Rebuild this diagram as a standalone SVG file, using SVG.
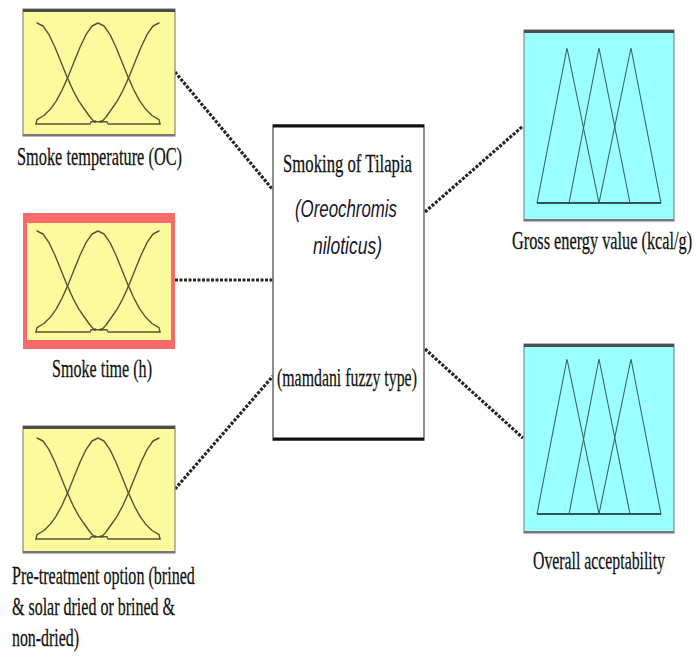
<svg xmlns="http://www.w3.org/2000/svg" xmlns:xlink="http://www.w3.org/1999/xlink" width="695" height="662" viewBox="0 0 695 662">
  <style>
    .in-box { fill: #FCFA9C; stroke: #8a8a80; stroke-width: 1.2; }
    .out-box { fill: #9CFFFF; stroke: #7f8a8a; stroke-width: 1.2; }
    .top-edge { stroke: #4d4d4d; stroke-width: 3; }
    .bot-edge { stroke: #777; stroke-width: 2; }
    .mf { fill: none; stroke: #55553a; stroke-width: 1.4; stroke-linejoin: round; stroke-linecap: round; }
    .tri { fill: none; stroke: #356767; stroke-width: 1.1; stroke-linejoin: miter; }
    .tri-base { stroke: #2f5555; stroke-width: 2.2; }
    .wire { fill: none; stroke: #262626; stroke-width: 3.2; stroke-dasharray: 3 1.5; }
    .lbl { font-family: "Liberation Serif", "Times New Roman", serif; font-size: 25px; fill: #111; stroke: #111; stroke-width: 0.25; }
    .ital { font-family: "Liberation Sans", Arial, sans-serif; font-style: italic; font-size: 23px; fill: #16162c; }
  </style>
  <defs>
    <!-- three gaussian membership functions, peak at y=0, base at y=101 -->
    <g id="gauss">
      <polyline class="mf" points="-1,101 0,96.7 7,92.5 13,86.6 19,78.3 25,67.3 31,53.9 37,39 43,24.2 49,11.6 55,3 61,0 67,3 73,11.6 79,24.2 85,39 91,53.9 97,67.3 103,78.3 109,86.6 115,92.5 122,96.7 123,101"/>
      <polyline class="mf" points="0,0 6,3 12,11.6 18,24.2 24,39 30,53.9 36,67.3 42,78.3 48,87 53,94 57,98.5"/>
      <polyline class="mf" points="122,0 116,3 110,11.6 104,24.2 98,39 92,53.9 86,67.3 80,78.3 74,87 69,94 65,98.5"/>
      <polyline class="mf" points="-1,101 53,101 54,98.8 70,98.8 71,101 123,101"/>
      <circle cx="58" cy="98.6" r="1.4" fill="#55553a"/>
      <circle cx="64" cy="98.6" r="1.4" fill="#55553a"/>
    </g>
    <!-- three triangular membership functions, peak at y=0, base at y=155 -->
    <g id="tris">
      <polyline class="tri" points="0,155 30,0 62,155"/>
      <polyline class="tri" points="32,155 62,0 93,155"/>
      <polyline class="tri" points="62,155 94,0 124,155"/>
      <line class="tri-base" x1="0" y1="155" x2="124" y2="155"/>
    </g>
  </defs>

  <!-- connectors -->
  <g id="connectors">
    <line class="wire" x1="175" y1="72" x2="273" y2="190"/>
    <line class="wire" x1="175" y1="280" x2="273" y2="280"/>
    <line class="wire" x1="175" y1="489" x2="273" y2="376"/>
    <line class="wire" x1="425" y1="212" x2="523" y2="126"/>
    <line class="wire" x1="425" y1="349" x2="523" y2="438"/>
  </g>

  <!-- input: smoke temperature -->
  <g id="in-temperature">
    <rect class="in-box" x="23" y="9" width="152" height="127"/>
    <line class="top-edge" x1="23" y1="10.5" x2="175" y2="10.5"/>
    <line class="bot-edge" x1="23" y1="135" x2="175" y2="135"/>
    <use xlink:href="#gauss" x="37" y="23"/>
    <text class="lbl" transform="translate(17 165) scale(0.66 1)" textLength="250" lengthAdjust="spacingAndGlyphs">Smoke temperature (OC)</text>
  </g>

  <!-- input: smoke time (selected) -->
  <g id="in-time">
    <rect x="23" y="213" width="152" height="136" fill="#F96A6A"/>
    <rect x="27" y="223" width="144" height="117" fill="#FCFA9C"/>
    <use xlink:href="#gauss" x="37" y="231"/>
    <text class="lbl" transform="translate(52 377) scale(0.66 1)" textLength="151.5" lengthAdjust="spacingAndGlyphs">Smoke time (h)</text>
  </g>

  <!-- input: pre-treatment option -->
  <g id="in-pretreatment">
    <rect class="in-box" x="23" y="426" width="152" height="127"/>
    <line class="top-edge" x1="23" y1="427.5" x2="175" y2="427.5"/>
    <line class="bot-edge" x1="23" y1="552" x2="175" y2="552"/>
    <use xlink:href="#gauss" x="37" y="438"/>
    <text class="lbl" transform="translate(12 584) scale(0.66 1)" textLength="277" lengthAdjust="spacingAndGlyphs">Pre-treatment option (brined</text>
    <text class="lbl" transform="translate(12 615) scale(0.66 1)" textLength="247" lengthAdjust="spacingAndGlyphs">&amp; solar dried or brined &amp;</text>
    <text class="lbl" transform="translate(12 646) scale(0.66 1)" textLength="101.5" lengthAdjust="spacingAndGlyphs">non-dried)</text>
  </g>

  <!-- inference system -->
  <g id="system">
    <rect x="273" y="125" width="151" height="315" fill="#fff" stroke="#6a6a6a" stroke-width="1.5"/>
    <line x1="273" y1="126" x2="424" y2="126" stroke="#111" stroke-width="3"/>
    <line x1="273" y1="439" x2="424" y2="439" stroke="#111" stroke-width="3"/>
    <text class="lbl" transform="translate(283 172) scale(0.66 1)" textLength="195.5" lengthAdjust="spacingAndGlyphs">Smoking of Tilapia</text>
    <text class="ital" transform="translate(295 217) scale(0.75 1)" textLength="136" lengthAdjust="spacingAndGlyphs">(Oreochromis</text>
    <text class="ital" transform="translate(313 254) scale(0.75 1)" textLength="92" lengthAdjust="spacingAndGlyphs">niloticus)</text>
    <text class="lbl" transform="translate(277 386) scale(0.66 1)" textLength="212" lengthAdjust="spacingAndGlyphs">(mamdani fuzzy type)</text>
  </g>

  <!-- output: gross energy value -->
  <g id="out-energy">
    <rect class="out-box" x="524" y="30" width="150" height="191"/>
    <line class="top-edge" x1="524" y1="31.5" x2="674" y2="31.5"/>
    <line class="bot-edge" x1="524" y1="220" x2="674" y2="220"/>
    <use xlink:href="#tris" x="537" y="48"/>
    <text class="lbl" transform="translate(512 249) scale(0.66 1)" textLength="273" lengthAdjust="spacingAndGlyphs">Gross energy value (kcal/g)</text>
  </g>

  <!-- output: overall acceptability -->
  <g id="out-acceptability">
    <rect class="out-box" x="524" y="344" width="150" height="189"/>
    <line class="top-edge" x1="524" y1="345.5" x2="674" y2="345.5"/>
    <line class="bot-edge" x1="524" y1="532" x2="674" y2="532"/>
    <use xlink:href="#tris" x="537" y="359"/>
    <text class="lbl" transform="translate(533 569) scale(0.66 1)" textLength="200" lengthAdjust="spacingAndGlyphs">Overall acceptability</text>
  </g>
</svg>
